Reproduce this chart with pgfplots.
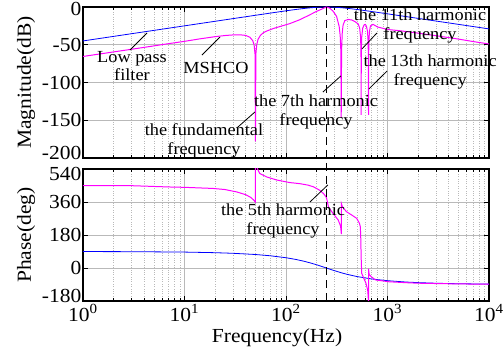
\documentclass[border=0pt]{standalone}
\usepackage{fontspec}
\setmainfont{Liberation Serif}[FakeStretch=1.08]
\usepackage{pgfplots}
\pgfplotsset{compat=1.18}
\definecolor{mag}{RGB}{255,0,255}
\definecolor{lpf}{RGB}{0,0,255}
\definecolor{gridc}{RGB}{185,185,185}
\tikzset{ann/.style={align=center, font=\fontsize{17}{19}\selectfont, inner sep=0pt},
  lead/.style={black, line width=0.8pt}}
\newcommand{\up}[2]{\raisebox{#1}[\height][\depth]{#2}}
\begin{document}
\begin{tikzpicture}
\begin{axis}[scale only axis, width=406bp, height=151bp, xmode=log, xmin=1, xmax=10000,
  axis line style={line width=1.1pt}, tick align=inside,
  major tick length=5bp, minor tick length=3bp,
  tick style={black, line width=0.7pt},
  grid=both, major grid style={gridc, line width=0.6pt},
  minor grid style={gridc, dotted, line width=0.6pt},
  tick label style={font=\fontsize{20}{20}\selectfont},
  yticklabel style={inner sep=1.5bp},
  label style={font=\fontsize{20}{20}\selectfont},
  ylabel style={at={(rel axis cs:0,0.5)}, anchor=center, rotate=0, yshift=57bp},
  clip mode=individual,
  name=top, ymin=-200, ymax=0,
  ytick={-200,-150,-100,-50,0}, yticklabels={\up{5bp}{-200},-150,-100,-50,\up{-1.5bp}{0}},
  xtick={1,10,100,1000,10000}, xticklabels={}, ylabel={Magnitude(dB)}]
\addplot[lpf, line width=0.8pt] coordinates {(1,-44.95)(2,-38.93)(3,-35.4)(5,-30.97)(10,-24.95)(20,-18.93)(30,-15.4)(50,-10.98)(70,-8.08)(100,-5.06)(125,-3.27)(150,-1.96)(175,-1.02)(200,-0.42)(225,-0.09)(250,0)(275,-0.08)(300,-0.29)(350,-0.92)(400,-1.69)(500,-3.27)(700,-6.01)(1000,-9.05)(1500,-12.56)(2500,-17.0)(5000,-23.0)(10000,-29.0)};
\addplot[mag, line width=1pt] coordinates {(1,-65.5)(1.5,-62)(2,-59.5)(3,-56)(5,-51.5)(7,-48.5)(10,-45.5)(14,-42.3)(20,-39.3)(25,-37.8)(30,-37)(35,-36.8)(40,-37.6)(44,-40)(47,-44.5)(48.5,-50)(49.5,-62)(50,-178)(50.5,-62)(51.5,-50)(53,-43)(56,-37.5)(60,-34)(65,-31.7)(75,-28.5)(88,-25.7)(109,-22)(137,-16.8)(165,-11.5)(200,-5.8)(225,-2.8)(240,-1)(250,0)(260,-0.7)(270,-1.5)(292,-5.8)(315,-12.4)(334,-25.7)(342,-38)(347,-58)(350,-147)(353,-58)(358,-35)(365,-24)(380,-18)(410,-16.5)(444,-17.2)(480,-19.5)(515,-22.5)(532,-28)(543,-40)(548,-60)(550,-143)(552,-60)(557,-40)(570,-28)(590,-23.5)(605,-23)(620,-25.5)(635,-32)(644,-45)(648,-65)(650,-143)(652,-65)(656,-45)(665,-32)(680,-25)(720,-23)(800,-26.5)(1000,-29.8)(1320,-31.4)(2000,-34.6)(3000,-38)(5000,-42.5)(7000,-45.8)(10000,-49)};
\coordinate (dtop) at (axis cs:250,0);
\draw[lead] (rel axis cs:0.1158,0.715) -- (rel axis cs:0.1576,0.828);
\node[ann] at (rel axis cs:0.1207,0.609) {Low pass\\filter};
\draw[lead] (rel axis cs:0.2931,0.682) -- (rel axis cs:0.3374,0.801);
\node[ann] at (rel axis cs:0.3276,0.596) {MSHCO};
\draw[lead] (rel axis cs:0.379,0.199) -- (rel axis cs:0.4236,0.305);
\node[ann] at (rel axis cs:0.298,0.113) {the fundamental\\frequency};
\draw[lead] (rel axis cs:0.591,0.437) -- (rel axis cs:0.635,0.543);
\node[ann] at (rel axis cs:0.574,0.305) {the 7th harmonic\\frequency};
\draw[lead] (rel axis cs:0.687,0.722) -- (rel axis cs:0.724,0.828);
\node[ann] at (rel axis cs:0.830,0.874) {the 11th harmonic\\frequency};
\draw[lead] (rel axis cs:0.704,0.457) -- (rel axis cs:0.749,0.576);
\node[ann] at (rel axis cs:0.855,0.570) {the 13th harmonic\\frequency};
\end{axis}
\begin{axis}[scale only axis, width=406bp, height=132bp, xmode=log, xmin=1, xmax=10000,
  axis line style={line width=1.1pt}, tick align=inside,
  major tick length=5bp, minor tick length=3bp,
  tick style={black, line width=0.7pt},
  grid=both, major grid style={gridc, line width=0.6pt},
  minor grid style={gridc, dotted, line width=0.6pt},
  tick label style={font=\fontsize{20}{20}\selectfont},
  yticklabel style={inner sep=1.5bp},
  label style={font=\fontsize{20}{20}\selectfont},
  ylabel style={at={(rel axis cs:0,0.5)}, anchor=center, rotate=0, yshift=57bp},
  xlabel style={at={(rel axis cs:0.478,0)}, anchor=center, yshift=-37bp},
  clip mode=individual,
  at={(top.south west)}, anchor=north west, yshift=-11bp,
  ymin=-180, ymax=540,
  ytick={-180,0,180,360,540}, yticklabels={\up{5bp}{-180},0,180,360,\up{-5bp}{540}},
  xtick={1,10,100,1000,10000},
  xticklabels={10\textsuperscript{0},10\textsuperscript{1},10\textsuperscript{2},10\textsuperscript{3},10\textsuperscript{4}},
  xlabel={Frequency(Hz)}, ylabel={Phase(deg)}]
\addplot[lpf, line width=0.8pt] coordinates {(1,89.7)(3,89.0)(10,86.8)(20,83.5)(30,80.2)(50,73.6)(70,66.7)(100,56.0)(125,46.7)(150,37.0)(175,27.2)(200,17.6)(225,8.5)(250,0)(275,-7.7)(300,-14.5)(350,-25.9)(400,-34.6)(500,-46.7)(700,-59.9)(1000,-69.3)(1500,-76.4)(2000,-79.8)(3000,-83.2)(5000,-85.9)(10000,-88)};
\addplot[mag, line width=1pt] coordinates {(1,450)(3,449)(7,442)(10,440)(19,434)(25,428)(32.7,415)(40,400)(45,385)(47.7,372)(49.9,360)(50.1,600)(52,545)(55,516)(65,496)(81,480)(109,466)(137,460)(165,452)(186,443)(215,424)(235,405)(250,385)(256,360)(262,333)(292,296)(327,262)(345,228)(351,185)(351.5,351)(360,334)(394,307)(444,289)(497,271)(529,244)(540,225)(546,153)(550,60)(557,-29)(584,-56)(613,-83)(638,-120)(646,-160)(650,-250)(650.5,-4)(660,-35)(690,-47)(760,-65)(1030,-75)(1500,-80)(2000,-83)(5000,-87)(10000,-88)};
\coordinate (dbot) at (axis cs:250,-180);
\draw[lead] (rel axis cs:0.559,0.75) -- (rel axis cs:0.603,0.879);
\node[ann] at (rel axis cs:0.4926,0.606) {the 5th harmonic\\frequency};
\end{axis}
\draw[black, line width=1.2pt, dash pattern=on 8bp off 5bp] (dtop) -- (dbot);
\pgfresetboundingbox
\useasboundingbox ([shift={(-83bp,7bp)}]top.north west) rectangle ++(503bp,-352bp);
\end{tikzpicture}
\end{document}
